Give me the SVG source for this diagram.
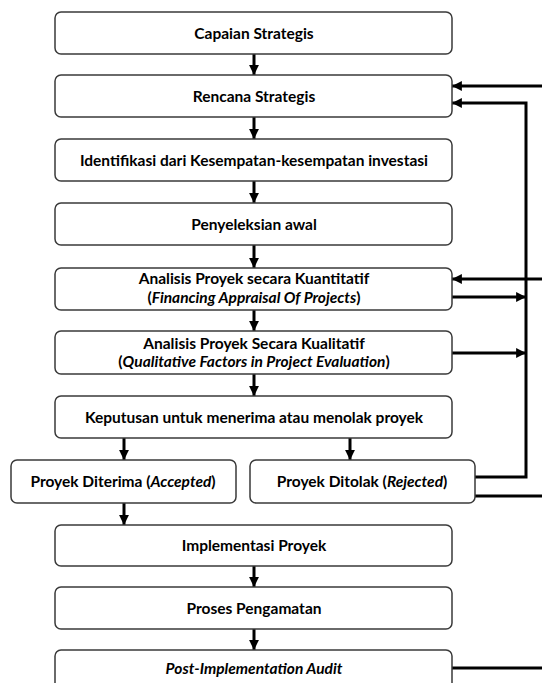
<svg xmlns="http://www.w3.org/2000/svg" width="542" height="683" viewBox="0 0 542 683">
<defs>
<style>
.box{fill:#fff;stroke:#3a3a3a;stroke-width:1.5}
.t{font-family:Lato,"Liberation Sans",sans-serif;font-weight:bold;font-size:15.5px;fill:#000;text-anchor:middle}
.i{font-style:italic}
.c{fill:none;stroke:#000;stroke-width:3}
</style>
<marker id="ah" viewBox="0 0 10 10" refX="10" refY="5" markerWidth="3.3" markerHeight="3.3" orient="auto" markerUnits="strokeWidth">
<path d="M0,0 L10,5 L0,10 Z" fill="#000"/>
</marker>
</defs>
<rect width="542" height="683" fill="#fff"/>
<g id="connectors">
<path class="c" d="M254,54 V75" marker-end="url(#ah)"/>
<path class="c" d="M254,117 V139" marker-end="url(#ah)"/>
<path class="c" d="M254,181 V203" marker-end="url(#ah)"/>
<path class="c" d="M254,245 V268" marker-end="url(#ah)"/>
<path class="c" d="M254,310 V331" marker-end="url(#ah)"/>
<path class="c" d="M254,374 V396" marker-end="url(#ah)"/>
<path class="c" d="M124,438 V460" marker-end="url(#ah)"/>
<path class="c" d="M350,438 V460" marker-end="url(#ah)"/>
<path class="c" d="M124,503 V525" marker-end="url(#ah)"/>
<path class="c" d="M254,566 V587" marker-end="url(#ah)"/>
<path class="c" d="M254,629 V650" marker-end="url(#ah)"/>
<path class="c" d="M545,86 H452" marker-end="url(#ah)"/>
<path class="c" d="M475,477 H526 V103 H452" marker-end="url(#ah)"/>
<path class="c" d="M545,279 H452" marker-end="url(#ah)"/>
<path class="c" d="M452,297 H526" marker-end="url(#ah)"/>
<path class="c" d="M452,353 H526" marker-end="url(#ah)"/>
<path class="c" d="M475,496 H545"/>
<path class="c" d="M452,668 H545"/>
</g>
<g id="n1"><rect class="box" x="55" y="12" width="397" height="42" rx="6"/><text class="t" x="254" y="38.5">Capaian Strategis</text></g>
<g id="n2"><rect class="box" x="55" y="75" width="397" height="42" rx="6"/><text class="t" x="254" y="101.5">Rencana Strategis</text></g>
<g id="n3"><rect class="box" x="55" y="139" width="397" height="42" rx="6"/><text class="t" x="254" y="165.5">Identifikasi dari Kesempatan-kesempatan investasi</text></g>
<g id="n4"><rect class="box" x="55" y="203" width="397" height="42" rx="6"/><text class="t" x="254" y="229.5">Penyeleksian awal</text></g>
<g id="n5"><rect class="box" x="55" y="268" width="397" height="42" rx="6"/><text class="t" x="254" y="284">Analisis Proyek secara Kuantitatif</text><text class="t" x="254" y="302.5">(<tspan class="i">Financing Appraisal Of Projects</tspan>)</text></g>
<g id="n6"><rect class="box" x="55" y="331" width="397" height="43" rx="6"/><text class="t" x="254" y="348.5">Analisis Proyek Secara Kualitatif</text><text class="t" x="254" y="367">(<tspan class="i">Qualitative Factors in Project Evaluation</tspan>)</text></g>
<g id="n7"><rect class="box" x="55" y="396" width="397" height="42" rx="6"/><text class="t" x="254" y="422.5">Keputusan untuk menerima atau menolak proyek</text></g>
<g id="n8"><rect class="box" x="11" y="460" width="225" height="43" rx="6"/><text class="t" x="123" y="486.5">Proyek Diterima (<tspan class="i">Accepted</tspan>)</text></g>
<g id="n9"><rect class="box" x="250" y="460" width="225" height="43" rx="6"/><text class="t" x="362" y="486.5">Proyek Ditolak (<tspan class="i">Rejected</tspan>)</text></g>
<g id="n10"><rect class="box" x="55" y="525" width="397" height="41" rx="6"/><text class="t" x="254" y="550.5">Implementasi Proyek</text></g>
<g id="n11"><rect class="box" x="55" y="587" width="397" height="42" rx="6"/><text class="t" x="254" y="613.5">Proses Pengamatan</text></g>
<g id="n12"><rect class="box" x="55" y="650" width="397" height="45" rx="6"/><text class="t i" x="254" y="674">Post-Implementation Audit</text></g>
</svg>
